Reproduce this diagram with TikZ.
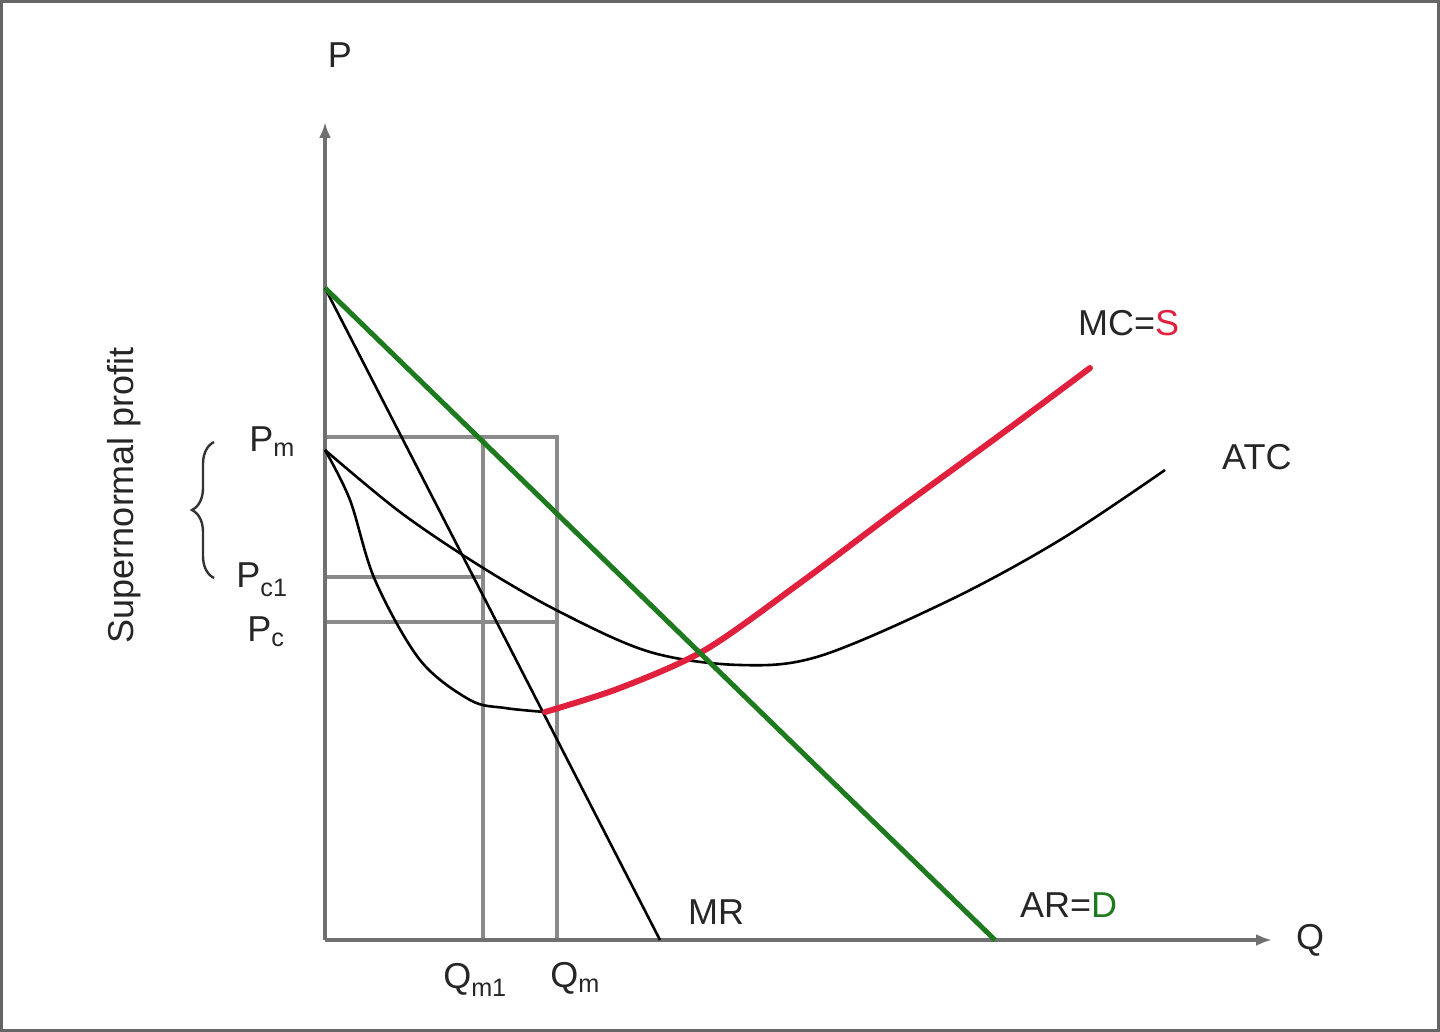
\documentclass[tikz,border=0pt]{standalone}
\usepackage{fontspec}
\setmainfont{Liberation Sans}
\usetikzlibrary{arrows.meta,decorations.pathreplacing}
\definecolor{axisgray}{HTML}{707070}
\definecolor{boxgray}{HTML}{8A8A8A}
\definecolor{dgreen}{HTML}{1E7A1E}
\definecolor{mcred}{HTML}{E0203C}
\begin{document}
\begin{tikzpicture}[x=1pt,y=-1pt,
  lbl/.style={font=\fontsize{36}{40}\selectfont, inner sep=0pt, text=black!85},
  axisline/.style={axisgray, line width=3.5pt},
  guide/.style={boxgray, line width=3.5pt},
  curve/.style={black, line width=2.6pt},
  dline/.style={dgreen, line width=5pt},
  mcline/.style={mcred, line width=6pt, line cap=round}]
\useasboundingbox (0,0) rectangle (1440,1032);
\draw[black!60, line width=3pt] (1.5,1.5) rectangle (1438.5,1030.5);
% coordinates
\coordinate (O) at (325,940);
\coordinate (Ytop) at (325,122);
\coordinate (Xend) at (1272,940);
\coordinate (A) at (325,288);
\coordinate (Dend) at (995,940);
\coordinate (MRend) at (660,940);
\coordinate (Pm) at (325,437);
\coordinate (Pc1) at (325,577);
\coordinate (Pc) at (325,622);
\coordinate (Qm1top) at (483,437);
\coordinate (Qmtop) at (557,437);
\coordinate (Qm1) at (483,940);
\coordinate (Qm) at (557,940);
\coordinate (Q1577) at (483,577);
\coordinate (Q622) at (557,622);
% guide lines
\draw[guide] (Pm) -- (Qmtop) -- (Qm);
\draw[guide] (Qm1top) -- (Qm1);
\draw[guide] (Pc1) -- (Q1577);
\draw[guide] (Pc) -- (Q622);
% axes
\draw[axisline, -{Latex[length=16pt,width=12pt]}] (O) -- (Ytop);
\draw[axisline, -{Latex[length=16pt,width=12pt]}] (O) -- (Xend);
% MR
\draw[curve] (A) -- (MRend);
% ATC
\draw[curve] plot[smooth, tension=0.55] coordinates {(325,450) (400,512) (480,566) (560,612) (650,652) (740,665) (820,656) (950,600) (1060,540) (1165,470)};
% MC black part
\draw[curve] plot[smooth, tension=0.55] coordinates {(325,450) (350,500) (375,580) (420,660) (470,700) (505,708) (545,712)};
% MC red
\draw[mcline] plot[smooth, tension=0.5] coordinates {(545,712) (620,688) (705,650) (800,583) (900,508) (1000,435) (1090,368)};
% AR=D
\draw[dline] (A) -- (Dend);
% labels
\node[lbl] (lP) at (340,55) {P};
\node[lbl] (lQ) at (1310,940) {Q};
\node[lbl, anchor=west] (lMC) at (1078,323) {MC=\textcolor{mcred}{S}};
\node[lbl, anchor=west] (lATC) at (1222,457) {ATC};
\node[lbl, anchor=west] (lMR) at (688,912) {MR};
\node[lbl, anchor=west] (lAR) at (1020,905) {AR=\textcolor{dgreen}{D}};
\node[lbl] (lPm) at (272,442) {P$_{\mathrm{m}}$};
\node[lbl] (lPc1) at (262,580) {P$_{\mathrm{c1}}$};
\node[lbl] (lPc) at (266,632) {P$_{\mathrm{c}}$};
\node[lbl] (lQm1) at (475,980) {Q$_{\mathrm{m1}}$};
\node[lbl] (lQm) at (575,978) {Q$_{\mathrm{m}}$};
\node[lbl, rotate=90] (lSP) at (124,495) {Supernormal profit};
\draw[black!80, line width=2.4pt, decorate, decoration={brace, amplitude=22pt}]
  (214,578) -- (214,442);
\end{tikzpicture}
\end{document}
